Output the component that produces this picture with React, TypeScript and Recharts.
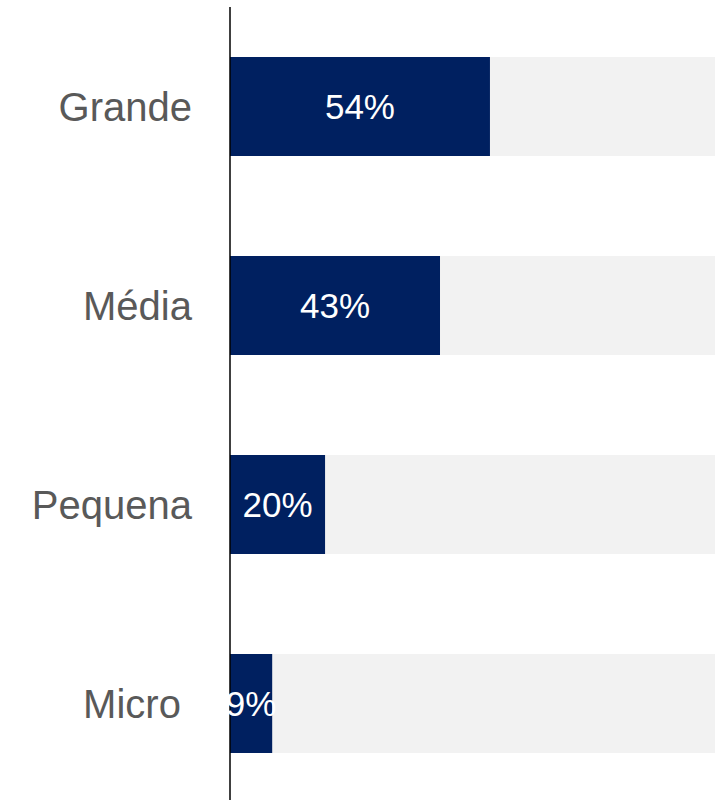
import React from "react";
import { BarChart, Bar, XAxis, YAxis, LabelList } from "recharts";

// company size categories (trailing nbsp on Micro mirrors the source label)
const categories: string[] = ["Grande", "Média", "Pequena", "Micro\u00A0"];
// share in percent; labels show them rounded
const shares: number[] = [53.6, 43.3, 19.6, 8.7];

const data = categories.map((size, i) => ({ size, share: shares[i] }));

const FONT = "'Liberation Sans', Arial, sans-serif";

export default function App() {
  return (
    <div style={{ position: "absolute", left: 0, top: 0, width: 718, height: 800, overflow: "hidden", background: "#ffffff" }}>
      <BarChart
        width={718}
        height={803}
        data={data}
        layout="vertical"
        margin={{ top: 7, right: 3, left: 0, bottom: 0 }}
      >
        <XAxis type="number" domain={[0, 100]} height={0} tick={false} axisLine={false} tickLine={false} />
        <YAxis
          type="category"
          dataKey="size"
          width={230}
          axisLine={{ stroke: "#000000", strokeWidth: 1.5 }}
          tickLine={false}
          tickSize={6}
          tickMargin={32}
          tick={{ fill: "#595959", fontSize: 40, fontFamily: FONT }}
        />
        <Bar
          dataKey="share"
          fill="#002060"
          barSize={99}
          background={{ fill: "#F2F2F2" }}
          isAnimationActive={false}
        >
          <LabelList
            dataKey="share"
            position="center"
            formatter={(v: any) => `${Math.round(Number(v))}%`}
            fill="#ffffff"
            fontSize={35}
            fontFamily={FONT}
          />
        </Bar>
      </BarChart>
    </div>
  );
}
